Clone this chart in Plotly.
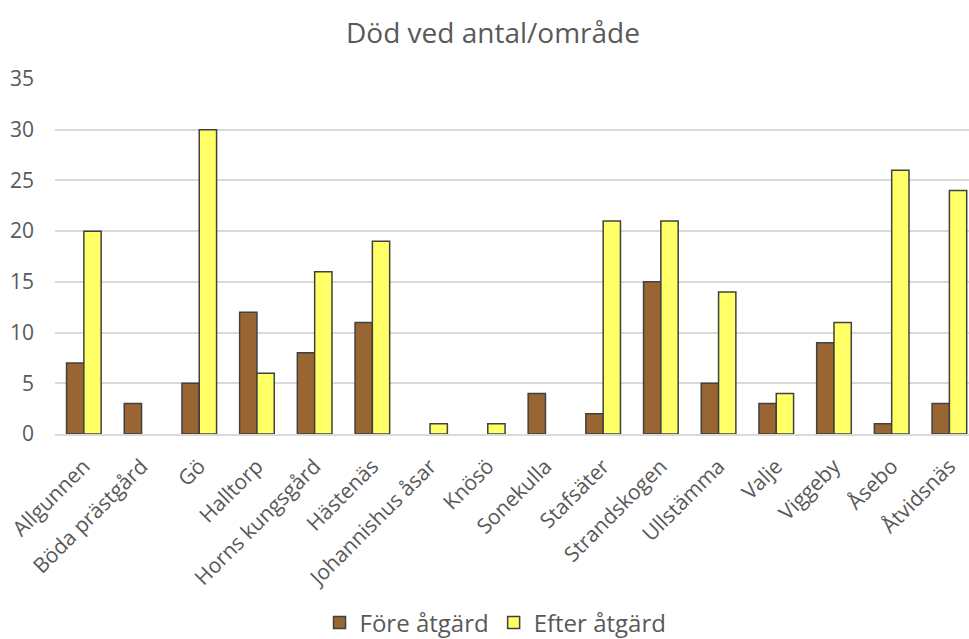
import plotly.graph_objects as go

categories = ["Allgunnen", "Böda prästgård", "Gö", "Halltorp", "Horns kungsgård", "Hästenäs",
              "Johannishus åsar", "Knösö", "Sonekulla", "Stafsäter", "Strandskogen", "Ullstämma",
              "Valje", "Viggeby", "Åsebo", "Åtvidsnäs"]
fore = [7, 3, 5, 12, 8, 11, 0, 0, 4, 2, 15, 5, 3, 9, 1, 3]
efter = [20, 0, 30, 6, 16, 19, 1, 1, 0, 21, 21, 14, 4, 11, 26, 24]

font_family = "'Open Sans', sans-serif"
text_color = "#595959"


def outline(vals):
    return dict(color="#404040", width=[1.5 if v else 0 for v in vals])


fig = go.Figure()
fig.add_trace(go.Bar(x=categories, y=fore, name="Före åtgärd",
                     marker=dict(color="#996633", line=outline(fore))))
fig.add_trace(go.Bar(x=categories, y=efter, name="Efter åtgärd",
                     marker=dict(color="#FFFF66", line=outline(efter))))

fig.update_layout(
    width=969, height=639,
    paper_bgcolor="white", plot_bgcolor="white",
    margin=dict(l=55, r=0, t=79, b=205, autoexpand=False),
    barmode="group", bargap=0.4, bargroupgap=0,
    title=dict(text="Död ved antal/område", x=(343 + 643) / 2 / 969, xanchor="center",
               y=(639 - 33) / 639, yanchor="middle", yref="container",
               font=dict(family=font_family, size=28, color=text_color)),
    font=dict(family=font_family, color=text_color),
    xaxis=dict(tickangle=-45, tickfont=dict(size=21, color=text_color),
               range=[-0.5, 15.34], automargin=False, ticklabelstandoff=10,
               showline=True, linecolor="#d9d9d9", linewidth=1.5, ticks=""),
    yaxis=dict(range=[0, 35], dtick=5, showgrid=True, gridcolor="#d9d9d9",
               gridwidth=1.5, zeroline=False, ticks="", automargin=False,
               ticklabelstandoff=20,
               tickfont=dict(size=21, color=text_color)),
    legend=dict(orientation="h", x=0.482, xanchor="center",
                yref="container", y=(639 - 623) / 639, yanchor="middle",
                font=dict(size=24, color=text_color), itemwidth=30),
)

fig.write_html("out.html",
               config={"displayModeBar": False},
               post_script="document.body.style.margin='0';document.body.style.overflow='hidden';")
